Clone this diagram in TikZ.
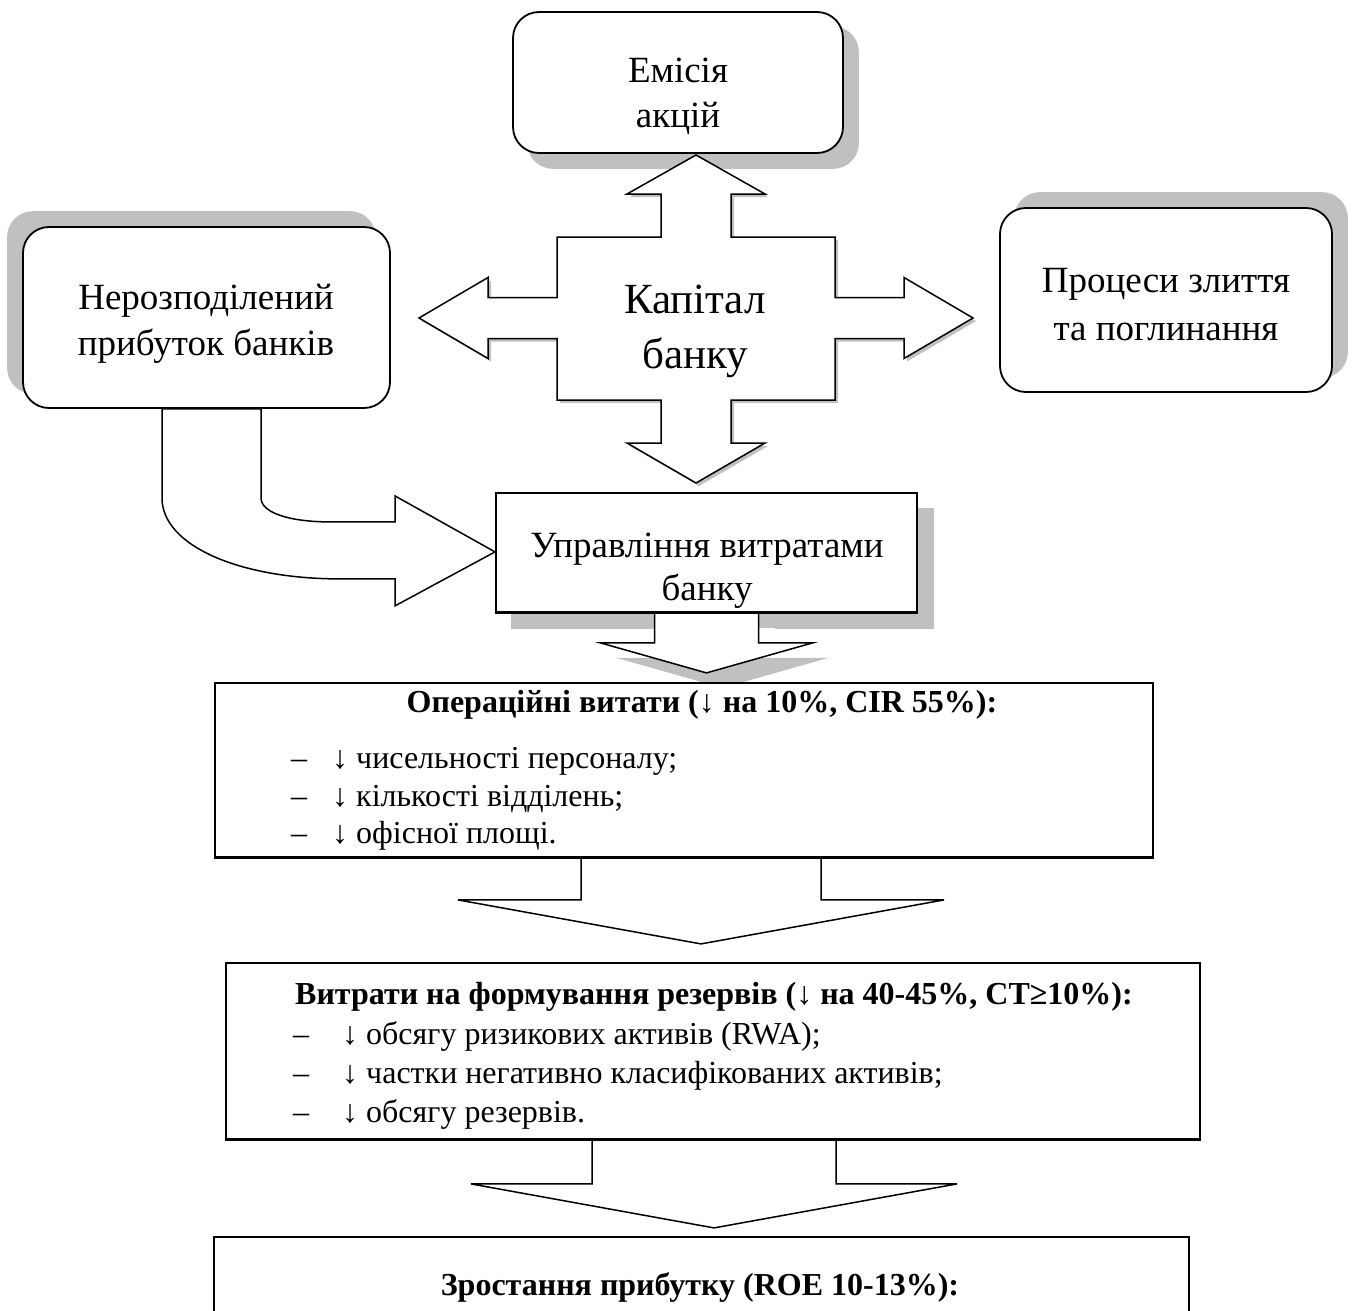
\documentclass[tikz,border=0pt]{standalone}
\usepackage{fontspec}
\setmainfont{Liberation Serif}
\usetikzlibrary{calc,backgrounds}
\definecolor{shadowgray}{RGB}{192,192,192}

% outline of the four-way arrow round "Капітал банку", centred on (0,0)
\newcommand\capcross{%
  (0,-163) -- (69,-124) -- (35,-124) -- (35,-81) -- (139,-81) -- (139,-20.5)
  -- (208,-20.5) -- (208,-40.5) -- (277,0) -- (208,40.5) -- (208,20.5)
  -- (139,20.5) -- (139,82) -- (35,82) -- (35,125) -- (69,125) -- (0,165)
  -- (-69,125) -- (-35,125) -- (-35,82) -- (-139,82) -- (-139,20.5)
  -- (-208,20.5) -- (-208,40.5) -- (-277,0) -- (-208,-40.5) -- (-208,-20.5)
  -- (-139,-20.5) -- (-139,-81) -- (-35,-81) -- (-35,-124) -- (-69,-124) -- cycle}
% short down arrow under "Управління витратами банку"
\newcommand\uprdown{(-52,0) -- (-52,30) -- (-106,30) -- (0,60) -- (106,30) -- (52,30) -- (52,0) -- cycle}

\tikzset{
  rbox/.style={draw, line width=1.8pt, rounded corners=26pt, fill=white, inner sep=0pt},
  sbox/.style={draw, line width=1.8pt, fill=white, inner sep=0pt},
  boxtext/.style={font=\fontsize{37}{46}\selectfont, anchor=base, inner sep=0pt},
  blockarrow/.style={draw, line width=1.5pt, fill=white, line join=miter},
  titletext/.style={font=\fontsize{32}{38}\selectfont\bfseries, anchor=base, inner sep=0pt},
  itemtext/.style={font=\fontsize{32}{38}\selectfont, anchor=base west, inner sep=0pt},
}

\begin{document}
\begin{tikzpicture}[x=1pt,y=-1pt]
\useasboundingbox (0,0) rectangle (1354,1311);

% ---- boxes ----
\node[rbox, minimum width=330, minimum height=141] (emis) at (678,82.5) {};
\node[rbox, minimum width=367, minimum height=181] (nerozp) at (206.5,317.5) {};
\node[rbox, minimum width=332, minimum height=184] (proc) at (1166,300) {};
\node[sbox, minimum width=421, minimum height=119] (upr) at (706.5,552.5) {};
\node[sbox, minimum width=938, minimum height=174] (op) at (684,770) {};
\node[sbox, minimum width=974, minimum height=176] (vytr) at (713,1051) {};
\node[sbox, minimum width=975, minimum height=170] (zrost) at (701.5,1322) {};

% ---- texts of the upper boxes ----
\node[boxtext] (e1) at (678,83) {Емісія};
\node[boxtext] (e2) at (678,128) {акцій};
\node[boxtext] (n1) at (206,309) {Нерозподілений};
\node[boxtext] (n2) at (206,355) {прибуток банків};
\node[boxtext] (p1) at (1166,292) {Процеси злиття};
\node[boxtext] (p2) at (1166,340) {та поглинання};
\node[boxtext] (u1) at (707,557) {Управління витратами};
\node[boxtext] (u2) at (707,600) {банку};

% ---- four-way arrow "Капітал банку" ----
\coordinate (capc) at (696,318);
\draw[blockarrow, shift={(capc)}] \capcross;
\node[boxtext, font=\fontsize{43}{55}\selectfont] (k1) at (695,313) {Капітал};
\node[boxtext, font=\fontsize{43}{55}\selectfont] (k2) at (695,368) {банку};

% ---- curved arrow from retained profit to cost management ----
\draw[blockarrow, shift={(nerozp.south)}]
  (-44.5,0) -- (-44.5,89) .. controls (-44.5,137) and (33.5,170) .. (133.5,170)
  -- (188.5,170) -- (188.5,197) -- (288.5,143) -- (188.5,87) -- (188.5,113)
  -- (123.5,113) .. controls (83.5,113) and (54.5,104) .. (54.5,89) -- (54.5,0) -- cycle;

% ---- down arrows ----
\draw[blockarrow, shift={(upr.south)}] \uprdown;
\coordinate (a1) at ($(op.south)+(17,0)$);
\draw[blockarrow, shift={(a1)}]
  (-120,0) -- (-120,42) -- (-243,42) -- (0,86) -- (243,42) -- (120,42) -- (120,0) -- cycle;
\coordinate (a2) at ($(vytr.south)+(1,0)$);
\draw[blockarrow, shift={(a2)}]
  (-122,0) -- (-122,44) -- (-243,44) -- (0,88) -- (243,44) -- (122,44) -- (122,0) -- cycle;

% redraw the box edges the arrows start from
\draw[line width=1.8pt] (upr.south west) -- (upr.south east);
\draw[line width=1.8pt] (op.south west) -- (op.south east);
\draw[line width=1.8pt] (vytr.south west) -- (vytr.south east);

% ---- texts of the lower boxes ----
\node[titletext] (t1) at (702,712) {Операційні витати (↓ на 10\%, CIR 55\%):};
\node[itemtext] (d11) at (291,768) {–};
\node[itemtext] (i11) at (332,768) {↓ чисельності персоналу;};
\node[itemtext] (d12) at (291,806) {–};
\node[itemtext] (i12) at (332,806) {↓ кількості відділень;};
\node[itemtext] (d13) at (291,843) {–};
\node[itemtext] (i13) at (332,843) {↓ офісної площі.};

\node[titletext] (t2) at (714,1004) {Витрати на формування резервів (↓ на 40-45\%, CT≥10\%):};
\node[itemtext] (d21) at (293,1044) {–};
\node[itemtext] (i21) at (342,1044) {↓ обсягу ризикових активів (RWA);};
\node[itemtext] (d22) at (293,1083) {–};
\node[itemtext] (i22) at (342,1083) {↓ частки негативно класифікованих активів;};
\node[itemtext] (d23) at (293,1122) {–};
\node[itemtext] (i23) at (342,1122) {↓ обсягу резервів.};

\node[titletext] (t3) at (700,1295) {Зростання прибутку (ROE 10-13\%):};

% ---- shadows ----
\begin{pgfonlayer}{background}
  \fill[shadowgray, rounded corners=26pt] ($(emis.south west)+(15,15)$) rectangle ($(emis.north east)+(15,15)$);
  \fill[shadowgray, rounded corners=26pt] ($(nerozp.south west)+(-15,-15)$) rectangle ($(nerozp.north east)+(-15,-15)$);
  \fill[shadowgray, rounded corners=26pt] ($(proc.south west)+(15,-15)$) rectangle ($(proc.north east)+(15,-15)$);
  \fill[shadowgray] ($(upr.south west)+(16,16)$) rectangle ($(upr.north east)+(16,16)$);
  \fill[shadowgray, shift={(capc)}, xshift=3pt, yshift=-3pt] \capcross;
  % shadow of the arrow under the cost box: the shaft part stays white
  \fill[white, shift={(upr.south)}, xshift=16pt, yshift=-15pt] (-52,0) rectangle (52,30);
  \fill[shadowgray, shift={(upr.south)}, xshift=16pt, yshift=-15pt]
    (-106,30) -- (0,60) -- (106,30) -- cycle;
\end{pgfonlayer}
\end{tikzpicture}
\end{document}
